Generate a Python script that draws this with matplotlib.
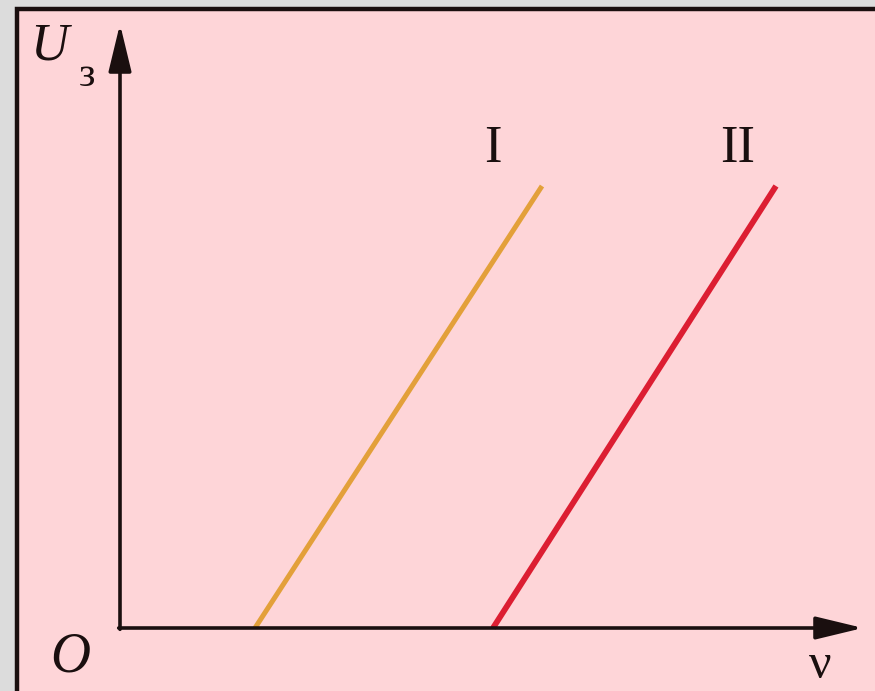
import matplotlib
matplotlib.use("Agg")
import matplotlib.pyplot as plt
from matplotlib.patches import Rectangle
from matplotlib.lines import Line2D

# stopping voltage vs frequency for two metals (arbitrary units)
nu_I = [1.35, 4.22]
U_I = [0.0, 4.42]
nu_II = [3.73, 6.56]
U_II = [0.0, 4.42]
line_labels = ["I", "II"]

W, H = 875, 691
fig = plt.figure(figsize=(W / 100, H / 100), dpi=100)
fig.patch.set_facecolor("#dcdcdc")

# pink panel with dark frame on top and left
fig.patches.append(Rectangle((17 / W, 0), 1 - 17 / W, 1 - 9 / H,
                             transform=fig.transFigure, facecolor="#fed5d8",
                             edgecolor="none", zorder=0))
fig.lines.append(Line2D([17 / W, 17 / W, 1], [0, 1 - 9 / H, 1 - 9 / H],
                        transform=fig.transFigure, color="#1a0f0f", lw=3.2,
                        solid_joinstyle="miter", zorder=1))

ax = fig.add_axes([0, 0, 1, 1])
ax.set_zorder(5)
ax.set_facecolor("none")
ax.set_xlim(-1.20, 7.55)
ax.set_ylim(-0.63, 6.28)
ax.axis("off")

ax.plot(nu_I, U_I, color="#e3a03a", lw=3.6, solid_capstyle="butt")
ax.plot(nu_II, U_II, color="#dc1e32", lw=4.2, solid_capstyle="butt")

# axes with arrows
arrow = dict(arrowstyle="-|>,head_length=2.9,head_width=0.7", color="#1a0f0f",
             lw=2.6, shrinkA=0, shrinkB=0, mutation_scale=10)
ax.annotate("", xy=(0, 6.04), xytext=(0, -0.013), arrowprops=arrow)
ax.annotate("", xy=(7.43, 0), xytext=(-0.013, 0), arrowprops=arrow)

serif = ["Liberation Serif", "DejaVu Serif"]
ax.text(3.73, 4.79, line_labels[0], ha="center", va="center", fontsize=38,
        family=serif, color="#1a0f0f")
ax.text(6.18, 4.79, line_labels[1], ha="center", va="center", fontsize=38,
        family=serif, color="#1a0f0f")
ax.text(-0.71, 5.82, "U", ha="center", va="center", fontsize=38,
        family=serif, style="italic", color="#1a0f0f")
ax.text(-0.33, 5.52, "з", ha="center", va="center", fontsize=30,
        family=serif, color="#1a0f0f")
ax.text(-0.50, -0.30, "O", ha="center", va="center", fontsize=40,
        family=serif, style="italic", color="#1a0f0f")
ax.text(7.00, -0.38, "ν", ha="center", va="center", fontsize=36,
        family=serif, color="#1a0f0f")

fig.savefig("out.png", dpi=100, facecolor=fig.get_facecolor())
